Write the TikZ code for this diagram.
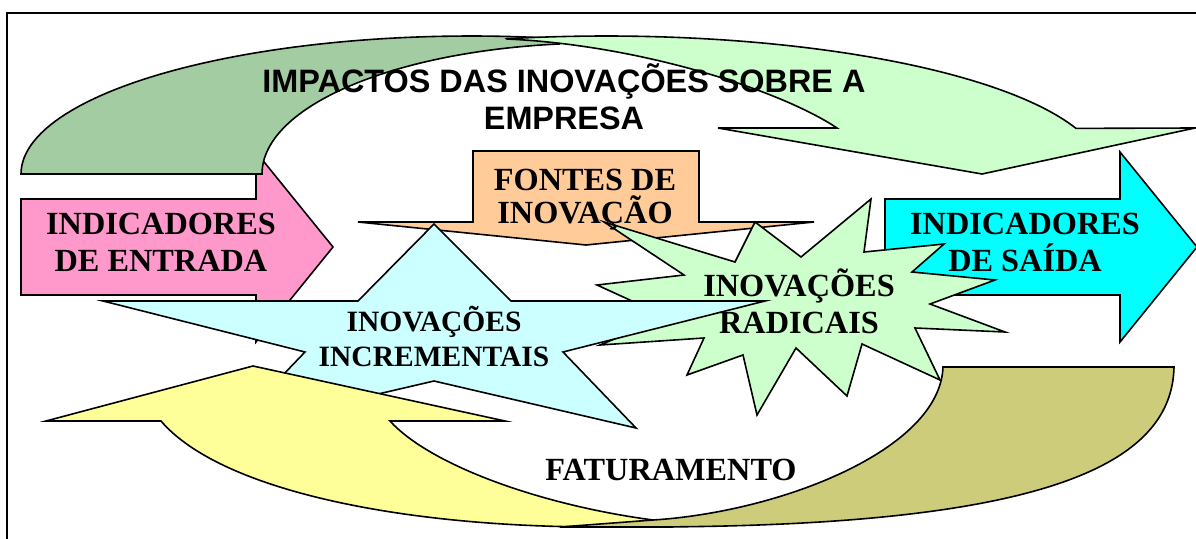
\documentclass[tikz,border=0pt]{standalone}
\usepackage{fontspec}
\setmainfont{Liberation Serif}
\newfontfamily\headfont{Liberation Sans}
\usepackage{xcolor}

\definecolor{entradapink}{RGB}{255,153,204}
\definecolor{saidacyan}{RGB}{0,255,255}
\definecolor{fonteorange}{RGB}{255,204,153}
\definecolor{impactlight}{RGB}{204,255,204}
\definecolor{impactdark}{RGB}{163,204,163}
\definecolor{incrcyan}{RGB}{204,255,255}
\definecolor{radgreen}{RGB}{204,255,204}
\definecolor{fatyellow}{RGB}{255,255,153}
\definecolor{fatolive}{RGB}{204,204,122}

\tikzset{
  shapeline/.style={draw=black, line width=1.6pt, line join=miter},
  lbl/.style={font=\bfseries\fontsize{32.3}{37.5}\selectfont, align=center,
    inner sep=0pt, anchor=base},
}

\begin{document}
\begin{tikzpicture}[x=1pt, y=-1pt]
\useasboundingbox (0,0) rectangle (1196,538);
\clip (0,0) rectangle (1196,538);

% frame
\draw[line width=1.6pt] (7,13) rectangle (1230,560);

% side arrows
\filldraw[shapeline, fill=entradapink] (21,199) -- (256,199) -- (256,152) -- (333,247)
  -- (256,342) -- (256,295) -- (21,295) -- cycle;
\filldraw[shapeline, fill=saidacyan] (885,199) -- (1120,199) -- (1120,152) -- (1197,247)
  -- (1120,342) -- (1120,295) -- (885,295) -- cycle;

% curved arrow on top
\filldraw[shapeline, fill=impactdark] (21,174)
  -- plot[domain=180:281.4, samples=60] ({471+450*cos(\x)}, {174+138*sin(\x)})
  -- (560,44)
  -- plot[domain=263.2:180, samples=60] ({600+338*cos(\x)}, {174+131*sin(\x)})
  -- cycle;
\filldraw[shapeline, fill=impactlight]
  plot[domain=258.5:340.7, samples=60] ({606+498*cos(\x)}, {174+138*sin(\x)})
  -- (1195,128) -- (982,174) -- (718,128) -- (837,128)
  .. controls (780,90) and (640,45) .. (507,39) -- cycle;

% down arrow
\filldraw[shapeline, fill=fonteorange] (473,151) -- (699,151) -- (699,222) -- (814,222)
  -- (586,245) -- (358,222) -- (473,222) -- cycle;

% explosion
\filldraw[shapeline, fill=radgreen] (801,257) -- (871,199) -- (864,252) -- (944,244)
  -- (912,272) -- (995,280) -- (930,304) -- (1005,332) -- (915,328) -- (940,380)
  -- (862,344) -- (847,396) -- (796,348) -- (757,415) -- (743,355) -- (687,375)
  -- (704,338) -- (600,345) -- (667,317) -- (597,285) -- (684,275) -- (604,222)
  -- (735,262) -- (755,222) -- cycle;

% star
\filldraw[shapeline, fill=incrcyan] (434,224) -- (511,301) -- (765,301) -- (563,352)
  -- (636,428) -- (434,381) -- (232,428) -- (305,352) -- (103,301) -- (358,301) -- cycle;

% curved arrow at the bottom
\filldraw[shapeline, fill=fatyellow] (46,421) -- (253,366) -- (505,421) -- (390,421)
  .. controls (430,465) and (540,505) .. (653,520) -- (670,527) -- (600,527)
  .. controls (400,527) and (220,490) .. (161,421) -- cycle;
\filldraw[shapeline, fill=fatolive] (943,367) -- (1174,367)
  .. controls (1172,470) and (1030,527) .. (640,527) -- (560,527) -- (653,520)
  .. controls (780,512) and (940,450) .. (943,367) -- cycle;

% labels (anchored at the baseline of the last line)
\node[lbl, font=\headfont\bfseries\fontsize{32.4}{37}\selectfont]
  (impactos) at (564,129) {IMPACTOS DAS INOVAÇÕES SOBRE A\\EMPRESA};
\node[lbl, font=\bfseries\fontsize{32.3}{33}\selectfont] (fontes) at (585,223) {FONTES DE\\INOVAÇÃO};
\node[lbl] (entrada) at (161,271.5) {INDICADORES\\DE ENTRADA};
\node[lbl] (saida) at (1025,271.5) {INDICADORES\\DE SAÍDA};
\node[lbl, font=\bfseries\fontsize{32.3}{36.5}\selectfont] (radicais) at (799,333) {INOVAÇÕES\\RADICAIS};
\node[lbl, font=\bfseries\fontsize{29.5}{35}\selectfont]
  (incrementais) at (434,366) {INOVAÇÕES\\INCREMENTAIS};
\node[lbl] (faturamento) at (671,480) {FATURAMENTO};

\end{tikzpicture}
\end{document}
